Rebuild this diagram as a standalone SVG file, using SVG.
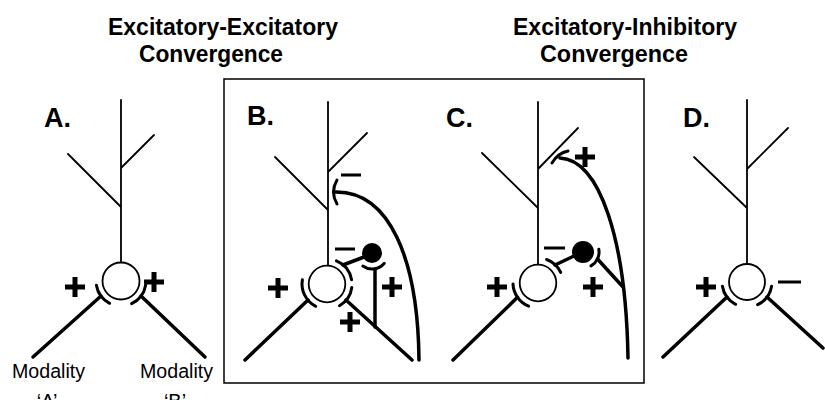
<svg xmlns="http://www.w3.org/2000/svg" width="825" height="400" viewBox="0 0 825 400">
<style>
.title{font-family:"Liberation Sans",Arial,sans-serif;font-weight:bold;font-size:24.5px;fill:#000}
.lbl{font-family:"Liberation Sans",Arial,sans-serif;font-weight:bold;font-size:27px;fill:#000}
.mod{font-family:"Liberation Sans",Arial,sans-serif;font-size:20px;fill:#000}
.den{stroke:#000;stroke-width:1.8;fill:none;stroke-linecap:round}
.ax{stroke:#000;stroke-width:3.5;fill:none;stroke-linecap:round}
.syn{stroke:#000;stroke-width:3;fill:none;stroke-linecap:round}
.soma{stroke:#000;stroke-width:1.8;fill:#fff}
.sign{stroke:#000;stroke-width:5;fill:none}
.minus{stroke:#000;stroke-width:3;fill:none}
.frame{stroke:#000;stroke-width:1.5;fill:none}
</style>
<defs>
<path id="plus" d="M-10,0 H10 M0,-10 V10" class="sign"/>
</defs>

<g id="titles">
<text class="title" x="108" y="35" textLength="230" lengthAdjust="spacingAndGlyphs">Excitatory-Excitatory</text>
<text class="title" x="139" y="62" textLength="144" lengthAdjust="spacingAndGlyphs">Convergence</text>
<text class="title" x="513" y="35" textLength="224" lengthAdjust="spacingAndGlyphs">Excitatory-Inhibitory</text>
<text class="title" x="540" y="62" textLength="148" lengthAdjust="spacingAndGlyphs">Convergence</text>
</g>

<rect id="frame" class="frame" x="224" y="79" width="420" height="304"/>

<g id="panelA">
<text class="lbl" x="44" y="127">A.</text>
<path class="den" d="M121,100 V263 M68,154 L121,207 M154,135 L121,168"/>
<circle class="soma" cx="121" cy="281" r="18.5"/>
<path class="syn" d="M109.6,303.3 A25,25 0 0 1 96.4,285.3 M145.6,285.3 A25,25 0 0 1 131.6,303.7"/>
<path class="ax" d="M101,296 L33,357 M141,296 L205,357"/>
<use href="#plus" x="75" y="287"/>
<use href="#plus" x="154" y="282"/>
<text class="mod" x="12" y="378" textLength="73" lengthAdjust="spacingAndGlyphs">Modality</text>
<text class="mod" x="47" y="408" text-anchor="middle">‘A’</text>
<text class="mod" x="140" y="378" textLength="73" lengthAdjust="spacingAndGlyphs">Modality</text>
<text class="mod" x="175" y="408" text-anchor="middle">‘B’</text>
</g>

<g id="panelB">
<text class="lbl" x="247" y="125">B.</text>
<path class="den" d="M328,102 V266 M275,157 L328,210 M367,133 L328,172"/>
<circle class="soma" cx="327" cy="284" r="18.3"/>
<path class="syn" d="M336.4,260.8 A25,25 0 0 1 351.6,279.7 M351.8,287.5 A25,25 0 0 1 339.5,305.7 M315.7,306.3 A25,25 0 0 1 302.4,279.7"/>
<path class="ax" d="M308,300 L245,360 M346,300 L412,360"/>
<circle cx="372" cy="253" r="10" fill="#000"/>
<path class="syn" d="M384.3,263.3 A16,16 0 0 1 362.8,266.1"/>
<path class="ax" d="M375,269 V327"/>
<path class="ax" d="M364,257 L343,265"/>
<path class="syn" d="M337,180 Q330,192 337,204"/>
<path class="ax" d="M334,192 C390,190 418,260 419,360"/>
<path class="minus" d="M341,175 H361 M335,249 H355"/>
<use href="#plus" x="278" y="288"/>
<use href="#plus" x="392" y="287"/>
<use href="#plus" x="350" y="322"/>
</g>

<g id="panelC">
<text class="lbl" x="446" y="127">C.</text>
<path class="den" d="M538,102 V265 M482,153 L538,208 M578,128 L538,169"/>
<circle class="soma" cx="538" cy="283" r="18.3"/>
<path class="syn" d="M546.6,259.5 A25,25 0 0 1 560.7,272.4 M528.6,306.2 A25,25 0 0 1 513,283.9"/>
<path class="ax" d="M517.5,297.3 L453,360"/>
<circle cx="583" cy="252" r="11" fill="#000"/>
<path class="syn" d="M598.8,249.2 A16,16 0 0 1 591,265.9"/>
<path class="ax" d="M574,256 L555,265 M597.5,259 L623,287"/>
<path class="syn" d="M552,163 Q558,153 568,151"/>
<path class="ax" d="M560,158 C600,160 626,240 628,358"/>
<path class="minus" d="M544,248 H565"/>
<use href="#plus" x="585" y="157"/>
<use href="#plus" x="497" y="287"/>
<use href="#plus" x="593" y="287"/>
</g>

<g id="panelD">
<text class="lbl" x="683" y="127">D.</text>
<path class="den" d="M747,100 V264 M694,157 L747,208 M788,128 L747,169"/>
<circle class="soma" cx="747" cy="282" r="18"/>
<path class="syn" d="M735.6,304.3 A25,25 0 0 1 722.4,286.3 M771.6,286.3 A25,25 0 0 1 757.6,304.7"/>
<path class="ax" d="M727,297 L663,357 M767,297 L823,348"/>
<use href="#plus" x="706" y="287"/>
<path class="minus" d="M778,282 H801"/>
</g>
</svg>
